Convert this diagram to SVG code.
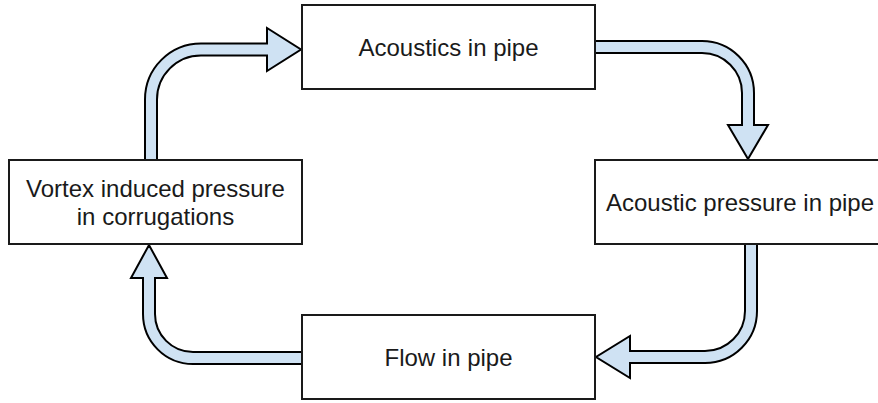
<svg xmlns="http://www.w3.org/2000/svg" width="878" height="403" viewBox="0 0 878 403">
<style>
.box{fill:#ffffff;stroke:#1a1a1a;stroke-width:2}
.arr{fill:#cfe2f3;stroke:#000000;stroke-width:2;stroke-linejoin:miter}
.t{font-family:"Liberation Sans",Arial,sans-serif;font-size:24px;fill:#1a1a1a;text-anchor:middle}
</style>
<rect width="878" height="403" fill="#ffffff"/>
<g id="connectors">
<path class="arr" d="M145,160 L145,99.5 A56,56 0 0 1 201,43.5 L267,43.5 L267,28 L301,49.5 L267,71 L267,55.5 L201,55.5 A44,44 0 0 0 157,99.5 L157,160 Z"/>
<path class="arr" d="M595,41 L702,41 A52,52 0 0 1 754,93 L754,125 L768,125 L748,159 L728,125 L742,125 L742,93 A40,40 0 0 0 702,53 L595,53 Z"/>
<path class="arr" d="M745,244 L757,244 L757,311 A52,52 0 0 1 705,363 L630,363 L630,378 L596,357 L630,336 L630,351 L705,351 A40,40 0 0 0 745,311 Z"/>
<path class="arr" d="M302,352 L193,352 A38,38 0 0 1 155,314 L155,278 L167,278 L149,245 L131,278 L143,278 L143,314 A50,50 0 0 0 193,364 L302,364 Z"/>
</g>
<g id="node-acoustics">
<rect class="box" x="302" y="5" width="293" height="84"/>
<text class="t" x="448.5" y="56">Acoustics in pipe</text>
</g>
<g id="node-acoustic-pressure">
<rect class="box" x="595" y="160" width="300" height="84"/>
<text class="t" x="740" y="211">Acoustic pressure in pipe</text>
</g>
<g id="node-flow">
<rect class="box" x="302" y="315" width="293" height="84"/>
<text class="t" x="448.5" y="366">Flow in pipe</text>
</g>
<g id="node-vortex">
<rect class="box" x="9" y="160" width="293" height="84"/>
<text class="t" x="155.5" y="197">Vortex induced pressure</text>
<text class="t" x="155.5" y="225">in corrugations</text>
</g>
</svg>
